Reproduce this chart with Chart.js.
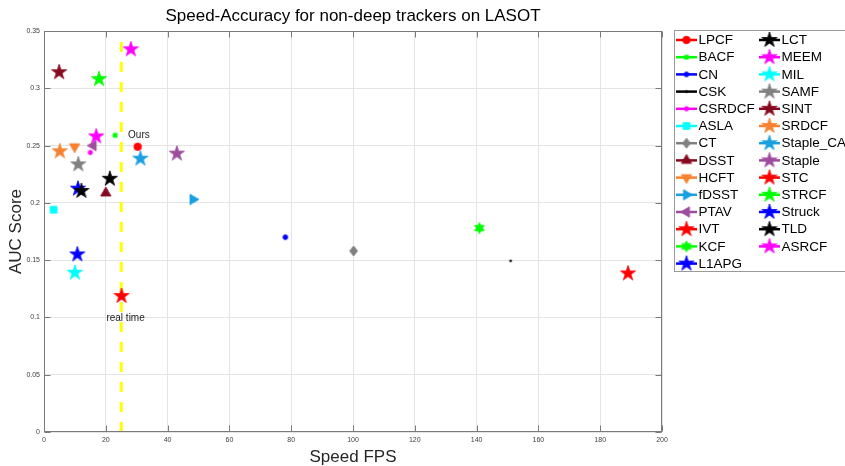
<!DOCTYPE html>
<html><head><meta charset="utf-8">
<script src="https://cdn.jsdelivr.net/npm/chart.js@4.4.0/dist/chart.umd.min.js"></script>
<style>html,body{margin:0;padding:0;background:#fff;overflow:hidden}#wrap{width:845px;height:466px;position:relative}</style>
</head><body><div id="wrap"><canvas id="c" width="845" height="466"></canvas></div>
<script>
// ---- data ----
const trackers = ['LPCF','BACF','CN','CSK','CSRDCF','ASLA','CT','DSST','HCFT','fDSST','PTAV','IVT','KCF','L1APG',
                  'LCT','MEEM','MIL','SAMF','SINT','SRDCF','Staple_CA','Staple','STC','STRCF','Struck','TLD','ASRCF'];
const speedFPS = [30.3, 23.0, 78.1, 151.0, 15.0, 3.1, 100.2, 20.0, 9.9, 48.2, 15.9, 25.1, 140.9, 10.8,
                  21.3, 16.9, 10.0, 11.1, 4.9, 5.1, 31.2, 43.0, 189.0, 17.8, 11.0, 12.1, 28.1];
const aucScore = [0.249, 0.259, 0.170, 0.1494, 0.244, 0.194, 0.158, 0.2086, 0.249, 0.203, 0.250, 0.1187, 0.178, 0.155,
                  0.221, 0.258, 0.139, 0.2336, 0.314, 0.245, 0.2386, 0.243, 0.1384, 0.308, 0.2124, 0.2104, 0.334];
const xTickLabels = ['0','20','40','60','80','100','120','140','160','180','200'];
const yTickLabels = ['0','0.05','0.1','0.15','0.2','0.25','0.3','0.35'];
const realTimeFPS = 25;
const noteTexts = ['Ours', 'real time'];
const noteX = [27.2, 20.2];
const noteY = [0.2594, 0.0993];

// ---- styles ----
const RED='#ff0000', GRN='#00ff00', BLU='#0000ff', BLK='#000000', MAG='#ff00ff', CYA='#00ffff',
      GRY='#808080', DRD='#860a1f', ORG='#f7812f', LBL='#1a9fe0', PUR='#9e4c9e';
const markerShape = ['circle','square','circle','circle','circle','square','diamond','triUp','triDown','triRight','triLeft','star5','star6','star5',
                     'star5','star5','star5','star5','star5','star5','star5','star5','star5','star5','star5','star5','star5'];
const markerColor = [RED,GRN,BLU,BLK,MAG,CYA,GRY,DRD,ORG,LBL,PUR,RED,GRN,BLU,
                     BLK,MAG,CYA,GRY,DRD,ORG,LBL,PUR,RED,GRN,BLU,BLK,MAG];
const markerSize = [3.8,2,2.4,1,2.2,3.4,5,6,6,6,6,8,5.5,8, 8,8,8,8,8,8,8,8,8,8,8,8,8];

function makeMarker(shape, color, s){
  const d = Math.ceil(s)*2 + 4;
  const cv = document.createElement('canvas');
  cv.width = d; cv.height = d;
  const g = cv.getContext('2d');
  const c = d/2;
  g.fillStyle = color; g.strokeStyle = color; g.lineWidth = 0.8;
  g.beginPath();
  const poly = pts => { pts.forEach((p,k)=> k? g.lineTo(c+p[0],c+p[1]) : g.moveTo(c+p[0],c+p[1])); g.closePath(); };
  if (shape === 'circle') g.arc(c, c, s, 0, Math.PI*2);
  else if (shape === 'square') g.rect(c-s, c-s, 2*s, 2*s);
  else if (shape === 'diamond') poly([[0,-s],[s*0.8,0],[0,s],[-s*0.8,0]]);
  else if (shape.startsWith('tri')) {
    const base = {triUp:-90, triDown:90, triRight:0, triLeft:180}[shape];
    const pts = [];
    for (let k=0;k<3;k++){ const a=(base+k*120)*Math.PI/180; pts.push([s*Math.cos(a), s*Math.sin(a)]); }
    poly(pts);
  } else if (shape === 'star5' || shape === 'star6') {
    const n = shape === 'star5' ? 5 : 6;
    const r = shape === 'star5' ? s*0.382 : s*0.577;
    const pts = [];
    for (let k=0;k<2*n;k++){ const a = -Math.PI/2 + k*Math.PI/n; const rr = k%2? r : s; pts.push([rr*Math.cos(a), rr*Math.sin(a)]); }
    poly(pts);
  }
  g.fill(); g.stroke();
  return cv;
}
const markers = trackers.map((t,i)=> makeMarker(markerShape[i], markerColor[i], markerSize[i]));

const FONT = '"Liberation Sans", Arial, Helvetica, sans-serif';

const datasets = trackers.map((name,i)=>({
  label: name,
  data: [{x: speedFPS[i], y: aucScore[i]}],
  pointStyle: markers[i],
  pointRadius: 6,
  backgroundColor: markerColor[i],
  borderColor: markerColor[i],
  order: trackers.length - i
}));
datasets.push({
  label: 'real time',
  data: [{x: realTimeFPS, y: 0}, {x: realTimeFPS, y: 0.35}],
  showLine: true,
  borderColor: '#ffff00',
  borderWidth: 3,
  borderDash: [10, 10],
  pointRadius: 0,
  order: 1000
});

const framePlugin = {
  id: 'frame',
  afterDatasetsDraw(chart){
    const {ctx, chartArea: a, scales: {x, y}} = chart;
    ctx.save();
    // annotation texts
    ctx.fillStyle = '#1a1a1a';
    ctx.font = '10px ' + FONT;
    ctx.textAlign = 'left'; ctx.textBaseline = 'middle';
    noteTexts.forEach((t,k)=> ctx.fillText(t, x.getPixelForValue(noteX[k]), y.getPixelForValue(noteY[k])));
    // box + inward ticks
    ctx.strokeStyle = '#7a7a7a'; ctx.lineWidth = 1;
    const L = Math.round(a.left)+0.5, R = Math.round(a.right)-0.5, T = Math.round(a.top)+0.5, B = Math.round(a.bottom)-0.5;
    ctx.strokeRect(L, T, R-L, B-T);
    ctx.beginPath();
    x.ticks.forEach(tk=>{ const px = Math.round(x.getPixelForValue(tk.value))+0.5;
      ctx.moveTo(px, B); ctx.lineTo(px, B-6); ctx.moveTo(px, T); ctx.lineTo(px, T+6); });
    y.ticks.forEach(tk=>{ const py = Math.round(y.getPixelForValue(tk.value))+0.5;
      ctx.moveTo(L, py); ctx.lineTo(L+6, py); ctx.moveTo(R, py); ctx.lineTo(R-6, py); });
    ctx.stroke();
    ctx.restore();
  },
  afterDraw(chart){
    const ctx = chart.ctx;
    ctx.save();
    // legend box
    ctx.fillStyle = '#ffffff';
    ctx.fillRect(674.5, 30.5, 200, 241);
    ctx.strokeStyle = '#9a9a9a'; ctx.lineWidth = 1;
    ctx.strokeRect(674.5, 30.5, 200, 241);
    ctx.font = '13.5px ' + FONT;
    ctx.textAlign = 'left'; ctx.textBaseline = 'middle';
    trackers.forEach((name,i)=>{
      const col = i < 14 ? 0 : 1;
      const row = col ? i-14 : i;
      const yy = 40 + row*17.2;
      const x0 = col ? 759 : 676;
      ctx.strokeStyle = markerColor[i]; ctx.lineWidth = 2.5;
      ctx.beginPath(); ctx.moveTo(x0, yy); ctx.lineTo(x0+21, yy); ctx.stroke();
      const m = markers[i];
      ctx.drawImage(m, x0+10.5 - m.width/2, yy - m.height/2);
      ctx.fillStyle = '#000';
      ctx.fillText(name, x0+22.5, yy+0.5);
    });
    ctx.restore();
  }
};

new Chart(document.getElementById('c'), {
  type: 'scatter',
  data: { datasets },
  options: {
    responsive: false,
    animation: false,
    events: [],
    layout: { padding: { left: 0, right: 183, top: 0, bottom: 0 } },
    plugins: {
      legend: { display: false },
      tooltip: { enabled: false },
      title: {
        display: true, fullSize: false,
        text: 'Speed-Accuracy for non-deep trackers on LASOT',
        color: '#000', font: { family: FONT, size: 17, weight: 'normal', lineHeight: 1.2 },
        padding: { top: 6.6, bottom: 4 }
      }
    },
    scales: {
      x: {
        type: 'linear', min: 0, max: 200,
        afterFit: s => { s.height = 34; },
        ticks: { stepSize: 20, padding: 4, color: '#404040', font: { family: FONT, size: 7 },
                 callback: (v) => xTickLabels[Math.round(v/20)] ?? '' },
        grid: { color: '#e4e4e4', drawTicks: false },
        border: { display: false },
        title: { display: true, text: 'Speed FPS', color: '#262626',
                 font: { family: FONT, size: 17, lineHeight: 1 }, padding: { top: 0, bottom: 0 } }
      },
      y: {
        type: 'linear', min: 0, max: 0.35,
        afterFit: s => { s.width = 44; },
        ticks: { stepSize: 0.05, padding: 4, color: '#404040', font: { family: FONT, size: 7 },
                 callback: (v) => yTickLabels[Math.round(v/0.05)] ?? '' },
        grid: { color: '#e4e4e4', drawTicks: false },
        border: { display: false },
        title: { display: true, text: 'AUC Score', color: '#262626',
                 font: { family: FONT, size: 17, lineHeight: 1 }, padding: { top: 8, bottom: 0 } }
      }
    }
  },
  plugins: [framePlugin]
});
</script></body></html>
